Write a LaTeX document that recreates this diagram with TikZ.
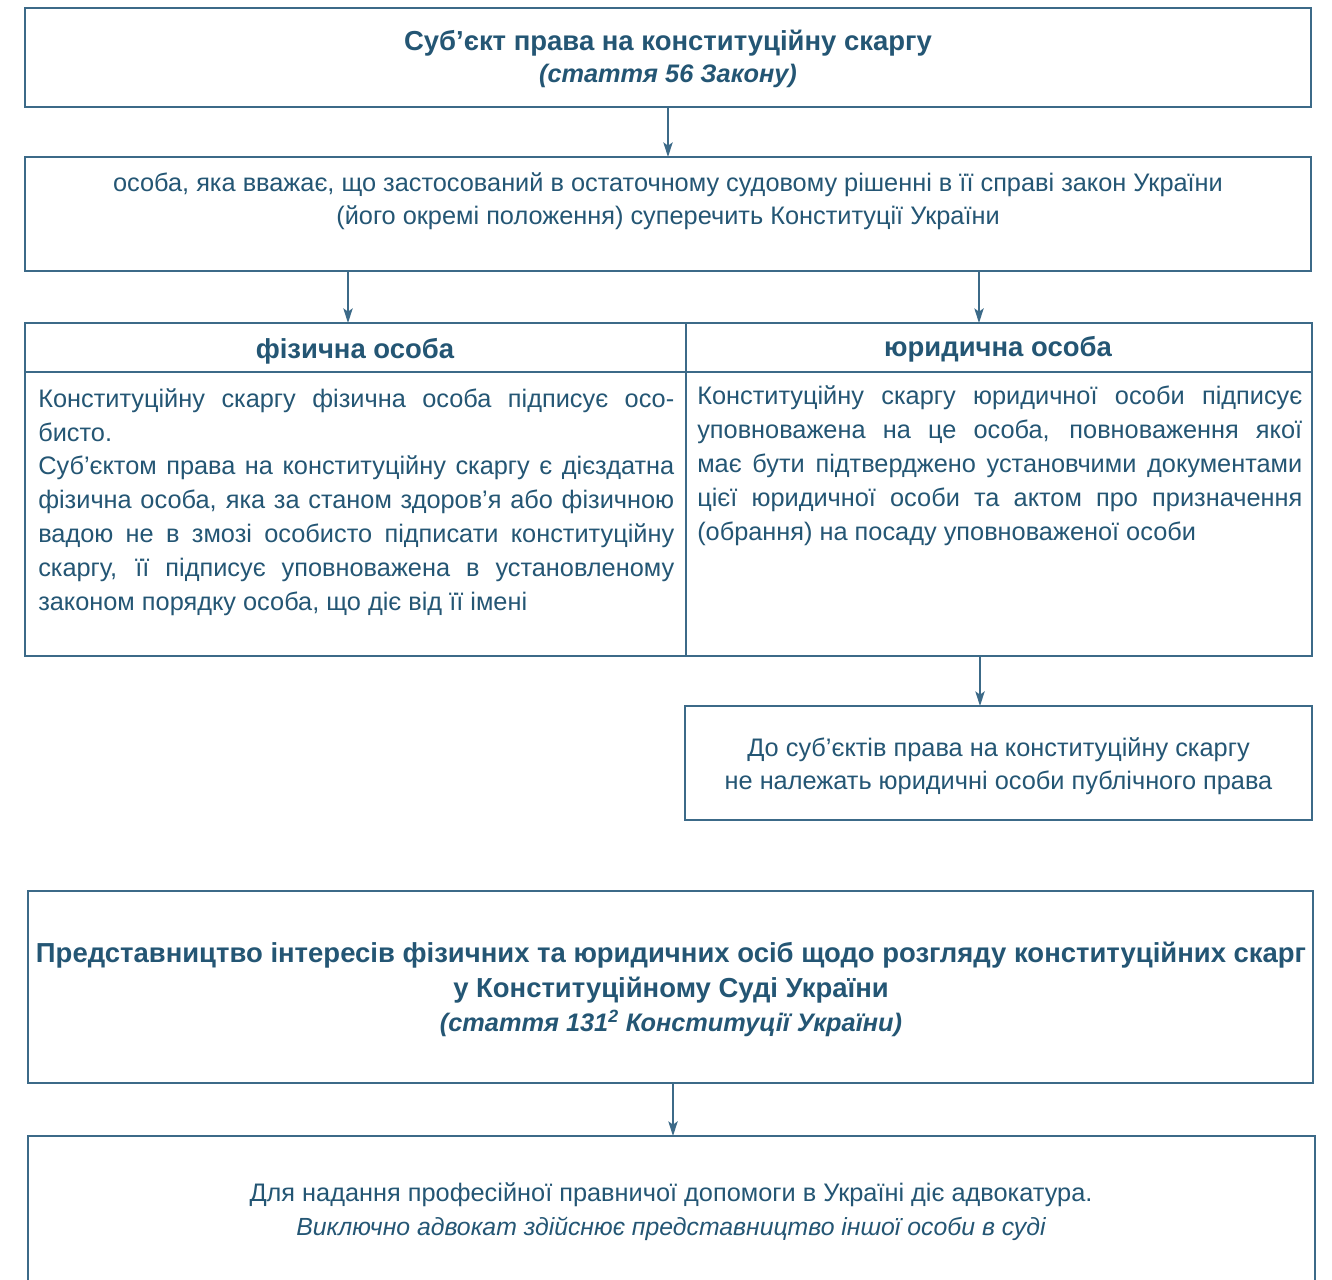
\documentclass[tikz,border=0pt]{standalone}
\usepackage{fontspec}
\setmainfont{Liberation Sans}
\usetikzlibrary{arrows.meta,fit}
\definecolor{ink}{RGB}{36,86,116}
\definecolor{rule}{RGB}{60,106,136}
\newdimen\pxd \pxd=0.75pt
\newcommand\jl[1]{\makebox[636\pxd][s]{#1}}
\newcommand\jr[1]{\makebox[605\pxd][s]{#1}}
\begin{document}
\begin{tikzpicture}[x=0.75pt,y=-0.75pt,
  box/.style={draw=rule,line width=1.4pt,inner sep=0pt,outer sep=0pt},
  arr/.style={draw=rule,line width=1.1pt,-{Stealth[length=11pt,width=7pt,inset=2.5pt]}},
  txt/.style={anchor=base,inner sep=0pt,text=ink,font=\fontsize{19}{23}\selectfont},
  ltxt/.style={txt,anchor=base west},
  btxt/.style={txt,font=\fontsize{20.6}{24}\selectfont\bfseries},
  bitxt/.style={txt,font=\fontsize{19}{23}\selectfont\bfseries\itshape},
  itxt/.style={txt,font=\fontsize{18.6}{23}\selectfont\itshape}]
\useasboundingbox (0,0) rectangle (1332,1279);
\clip (0,0) rectangle (1332,1279);
\fill[white] (0,0) rectangle (1332,1279);
% boxes
\node[box,fit={(25,8)(1311,107)}] (b1) {};
\node[box,fit={(25,157)(1311,271)}] (b2) {};
\node[box,fit={(25,323)(686,372)}] (fizH) {};
\node[box,fit={(686,323)(1312,372)}] (jurH) {};
\node[box,fit={(25,372)(686,656)}] (fizB) {};
\node[box,fit={(686,372)(1312,656)}] (jurB) {};
\node[box,fit={(685,706)(1312,820)}] (note) {};
\node[box,fit={(28,891)(1313,1083)}] (rep) {};
\node[box,fit={(28,1136)(1315,1300)}] (adv) {};
% arrow columns
\coordinate (xa) at (348,0);
\coordinate (xb) at (979,0);
\coordinate (xc) at (980,0);
\coordinate (xd) at (673,0);
\draw[arr] (b1.south) -- (b2.north);
\draw[arr] (b2.south -| xa) -- (fizH.north -| xa);
\draw[arr] (b2.south -| xb) -- (jurH.north -| xb);
\draw[arr] (jurB.south -| xc) -- (note.north -| xc);
\draw[arr] (rep.south -| xd) -- (adv.north -| xd);
% texts
\node[btxt] (t1a) at (668,50) {Суб’єкт права на конституційну скаргу};
\node[bitxt] (t1b) at (668,82) {(стаття 56 Закону)};
\node[txt] (t2a) at (668,191) {особа, яка вважає, що застосований в остаточному судовому рішенні в її справі закон України};
\node[txt] (t2b) at (668,224) {(його окремі положення) суперечить Конституції України};
\node[btxt] (h1) at (355,358) {фізична особа};
\node[btxt] (h2) at (998,356) {юридична особа};
\node[ltxt] (l1) at (38,407) {\jl{Конституційну скаргу фізична особа підписує осо-}};
\node[ltxt] (l2) at (38,441) {бисто.};
\node[ltxt] (l3) at (38,474.5) {\jl{Суб’єктом права на конституційну скаргу є дієздатна}};
\node[ltxt] (l4) at (38,508.5) {\jl{фізична особа, яка за станом здоров’я або фізичною}};
\node[ltxt] (l5) at (38,542.5) {\jl{вадою не в змозі особисто підписати конституційну}};
\node[ltxt] (l6) at (38,576.5) {\jl{скаргу, її підписує уповноважена в установленому}};
\node[ltxt] (l7) at (38,610) {законом порядку особа, що діє від її імені};
\node[ltxt] (r1) at (697,404.5) {\jr{Конституційну скаргу юридичної особи підписує}};
\node[ltxt] (r2) at (697,438.5) {\jr{уповноважена на це особа, повноваження якої}};
\node[ltxt] (r3) at (697,472) {\jr{має бути підтверджено установчими документами}};
\node[ltxt] (r4) at (697,506) {\jr{цієї юридичної особи та актом про призначення}};
\node[ltxt] (r5) at (697,540) {(обрання) на посаду уповноваженої особи};
\node[txt] (n1) at (998.5,756) {До суб’єктів права на конституційну скаргу};
\node[txt] (n2) at (998.5,789) {не належать юридичні особи публічного права};
\node[btxt] (p1) at (671,962) {Представництво інтересів фізичних та юридичних осіб щодо розгляду конституційних скарг};
\node[btxt] (p2) at (671,997) {у Конституційному Суді України};
\node[bitxt] (p3) at (671,1031) {(стаття 131\textsuperscript{2} Конституції України)};
\node[txt] (a1) at (671,1201) {Для надання професійної правничої допомоги в Україні діє адвокатура.};
\node[itxt] (a2) at (671,1235) {Виключно адвокат здійснює представництво іншої особи в суді};
\end{tikzpicture}
\end{document}
